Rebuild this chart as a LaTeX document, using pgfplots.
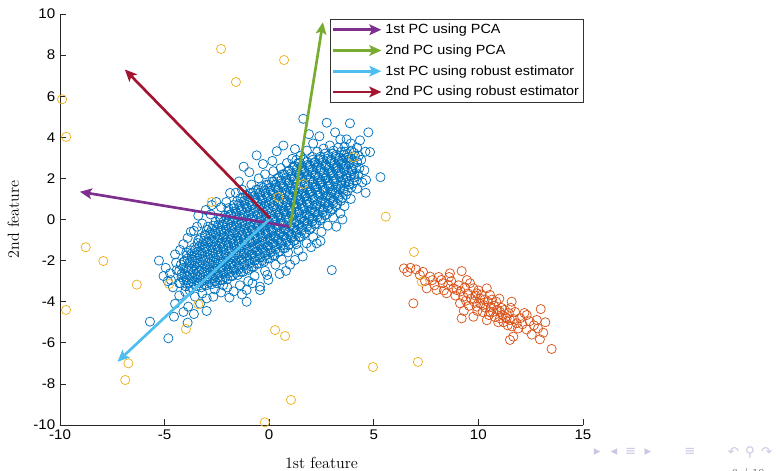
\documentclass[border=0pt]{standalone}
\usepackage{fontspec}
\usepackage{pgfplots}
\pgfplotsset{compat=1.18}
\usetikzlibrary{arrows.meta}
\newfontfamily\arial[FakeStretch=1.08]{Liberation Sans}
\newfontfamily\dejavu{DejaVu Sans}

\definecolor{mblue}{HTML}{0072BD}
\definecolor{morange}{HTML}{D95319}
\definecolor{myellow}{HTML}{EDB120}
\definecolor{mpurple}{HTML}{7E2F8E}
\definecolor{mgreen}{HTML}{77AC30}
\definecolor{mcyan}{HTML}{4DBEEE}
\definecolor{mred}{HTML}{A2142F}
\definecolor{navclr}{RGB}{200,200,228}

\begin{document}
\begin{tikzpicture}
\path[use as bounding box] (-45pt,-34.5pt) rectangle (537pt,318.75pt);
\begin{axis}[
  at={(0pt,0pt)}, anchor=south west,
  scale only axis, width=392.25pt, height=308.25pt,
  xmin=-10, xmax=15, ymin=-10, ymax=10,
  axis x line=bottom, axis y line=left,
  axis line style={-, draw=black!85, line width=0.5pt},
  xtick={-10,-5,...,15}, ytick={-10,-8,...,10},
  tick align=inside, major tick length=4.5pt,
  tick style={black!85, line width=0.5pt},
  ticklabel style={font=\arial\fontsize{10.5}{12}\selectfont},
  /pgf/number format/assume math mode=true,
  xlabel={1st feature}, ylabel={2nd feature},
  label style={font=\fontsize{12}{14}\selectfont},
  xlabel style={yshift=-6pt},
  ylabel style={yshift=4pt},
  clip=false, clip marker paths=true,
  legend cell align=left,
  legend style={at={(1.002,0.988)}, anchor=north east, draw=black!80,
    line width=0.5pt, font=\arial\fontsize{10}{12}\selectfont,
    inner sep=1.5pt, row sep=2.8pt},
  legend image code/.code={\draw[#1] (0pt,0pt) -- (36pt,0pt);},
  scat/.style={only marks, mark=o, mark size=3.45pt, mark options={line width=0.55pt}, forget plot},
  arr/.style={line width=2pt, -{Stealth[length=9pt,width=8pt,inset=2pt]}},
]
% inlier cloud
\addplot[scat, color=mblue] coordinates {
(-4.25,-3.1) (-4.19,-2.8) (-4.3,-2.5) (-4.22,-2.2)
(-4.0,-3.25) (-3.94,-2.95) (-4.05,-2.65) (-3.97,-2.35) (-4.07,-2.05) (-3.95,-1.75)
(-3.75,-3.3) (-3.69,-3.0) (-3.8,-2.7) (-3.72,-2.4) (-3.82,-2.1) (-3.7,-1.8) (-3.77,-1.5)
(-3.5,-3.25) (-3.44,-2.95) (-3.55,-2.65) (-3.47,-2.35) (-3.57,-2.05) (-3.45,-1.75) (-3.52,-1.45) (-3.42,-1.15)
(-3.25,-3.3) (-3.19,-3.0) (-3.3,-2.7) (-3.22,-2.4) (-3.32,-2.1) (-3.2,-1.8) (-3.27,-1.5) (-3.17,-1.2) (-3.29,-0.9)
(-3.0,-3.2) (-2.94,-2.9) (-3.05,-2.6) (-2.97,-2.3) (-3.07,-2.0) (-2.95,-1.7) (-3.02,-1.4) (-2.92,-1.1) (-3.04,-0.8) (-2.98,-0.5)
(-2.75,-3.15) (-2.69,-2.85) (-2.8,-2.55) (-2.72,-2.25) (-2.82,-1.95) (-2.7,-1.65) (-2.77,-1.35) (-2.67,-1.05) (-2.79,-0.75) (-2.73,-0.45)
(-2.5,-3.1) (-2.44,-2.8) (-2.55,-2.5) (-2.47,-2.2) (-2.57,-1.9) (-2.45,-1.6) (-2.52,-1.3) (-2.42,-1.0) (-2.54,-0.7) (-2.48,-0.4) (-2.56,-0.1)
(-2.25,-2.95) (-2.19,-2.65) (-2.3,-2.35) (-2.22,-2.05) (-2.32,-1.75) (-2.2,-1.45) (-2.27,-1.15) (-2.17,-0.85) (-2.29,-0.55) (-2.23,-0.25) (-2.31,0.05)
(-2.0,-2.9) (-1.94,-2.6) (-2.05,-2.3) (-1.97,-2.0) (-2.07,-1.7) (-1.95,-1.4) (-2.02,-1.1) (-1.92,-0.8) (-2.04,-0.5) (-1.98,-0.2) (-2.06,0.1) (-1.93,0.4)
(-1.75,-2.75) (-1.69,-2.45) (-1.8,-2.15) (-1.72,-1.85) (-1.82,-1.55) (-1.7,-1.25) (-1.77,-0.95) (-1.67,-0.65) (-1.79,-0.35) (-1.73,-0.05) (-1.81,0.25) (-1.68,0.55)
(-1.5,-2.7) (-1.44,-2.4) (-1.55,-2.1) (-1.47,-1.8) (-1.57,-1.5) (-1.45,-1.2) (-1.52,-0.9) (-1.42,-0.6) (-1.54,-0.3) (-1.48,0.0) (-1.56,0.3) (-1.43,0.6) (-1.53,0.9)
(-1.25,-2.55) (-1.19,-2.25) (-1.3,-1.95) (-1.22,-1.65) (-1.32,-1.35) (-1.2,-1.05) (-1.27,-0.75) (-1.17,-0.45) (-1.29,-0.15) (-1.23,0.15) (-1.31,0.45) (-1.18,0.75) (-1.28,1.05)
(-1.0,-2.45) (-0.94,-2.15) (-1.05,-1.85) (-0.97,-1.55) (-1.07,-1.25) (-0.95,-0.95) (-1.02,-0.65) (-0.92,-0.35) (-1.04,-0.05) (-0.98,0.25) (-1.06,0.55) (-0.93,0.85) (-1.03,1.15)
(-0.75,-2.3) (-0.69,-2.0) (-0.8,-1.7) (-0.72,-1.4) (-0.82,-1.1) (-0.7,-0.8) (-0.77,-0.5) (-0.67,-0.2) (-0.79,0.1) (-0.73,0.4) (-0.81,0.7) (-0.68,1.0) (-0.78,1.3)
(-0.5,-2.15) (-0.44,-1.85) (-0.55,-1.55) (-0.47,-1.25) (-0.57,-0.95) (-0.45,-0.65) (-0.52,-0.35) (-0.42,-0.05) (-0.54,0.25) (-0.48,0.55) (-0.56,0.85) (-0.43,1.15) (-0.53,1.45)
(-0.25,-2.05) (-0.19,-1.75) (-0.3,-1.45) (-0.22,-1.15) (-0.32,-0.85) (-0.2,-0.55) (-0.27,-0.25) (-0.17,0.05) (-0.29,0.35) (-0.23,0.65) (-0.31,0.95) (-0.18,1.25) (-0.28,1.55)
(0.0,-1.9) (0.06,-1.6) (-0.05,-1.3) (0.03,-1.0) (-0.07,-0.7) (0.05,-0.4) (-0.02,-0.1) (0.08,0.2) (-0.04,0.5) (0.02,0.8) (-0.06,1.1) (0.07,1.4) (-0.03,1.7)
(0.25,-1.75) (0.31,-1.45) (0.2,-1.15) (0.28,-0.85) (0.18,-0.55) (0.3,-0.25) (0.23,0.05) (0.33,0.35) (0.21,0.65) (0.27,0.95) (0.19,1.25) (0.32,1.55) (0.22,1.85)
(0.5,-1.55) (0.56,-1.25) (0.45,-0.95) (0.53,-0.65) (0.43,-0.35) (0.55,-0.05) (0.48,0.25) (0.58,0.55) (0.46,0.85) (0.52,1.15) (0.44,1.45) (0.57,1.75) (0.47,2.05)
(0.75,-1.4) (0.81,-1.1) (0.7,-0.8) (0.78,-0.5) (0.68,-0.2) (0.8,0.1) (0.73,0.4) (0.83,0.7) (0.71,1.0) (0.77,1.3) (0.69,1.6) (0.82,1.9) (0.72,2.2)
(1.0,-1.2) (1.06,-0.9) (0.95,-0.6) (1.03,-0.3) (0.93,0.0) (1.05,0.3) (0.98,0.6) (1.08,0.9) (0.96,1.2) (1.02,1.5) (0.94,1.8) (1.07,2.1) (0.97,2.4)
(1.25,-1.0) (1.31,-0.7) (1.2,-0.4) (1.28,-0.1) (1.18,0.2) (1.3,0.5) (1.23,0.8) (1.33,1.1) (1.21,1.4) (1.27,1.7) (1.19,2.0) (1.32,2.3) (1.22,2.6)
(1.5,-0.85) (1.56,-0.55) (1.45,-0.25) (1.53,0.05) (1.43,0.35) (1.55,0.65) (1.48,0.95) (1.58,1.25) (1.46,1.55) (1.52,1.85) (1.44,2.15) (1.57,2.45) (1.47,2.75)
(1.75,-0.65) (1.81,-0.35) (1.7,-0.05) (1.78,0.25) (1.68,0.55) (1.8,0.85) (1.73,1.15) (1.83,1.45) (1.71,1.75) (1.77,2.05) (1.69,2.35) (1.82,2.65)
(2.0,-0.4) (2.06,-0.1) (1.95,0.2) (2.03,0.5) (1.93,0.8) (2.05,1.1) (1.98,1.4) (2.08,1.7) (1.96,2.0) (2.02,2.3) (1.94,2.6) (2.07,2.9)
(2.25,-0.2) (2.31,0.1) (2.2,0.4) (2.28,0.7) (2.18,1.0) (2.3,1.3) (2.23,1.6) (2.33,1.9) (2.21,2.2) (2.27,2.5) (2.19,2.8)
(2.5,0.05) (2.56,0.35) (2.45,0.65) (2.53,0.95) (2.43,1.25) (2.55,1.55) (2.48,1.85) (2.58,2.15) (2.46,2.45) (2.52,2.75) (2.44,3.05)
(2.75,0.25) (2.81,0.55) (2.7,0.85) (2.78,1.15) (2.68,1.45) (2.8,1.75) (2.73,2.05) (2.83,2.35) (2.71,2.65) (2.77,2.95)
(3.0,0.5) (3.06,0.8) (2.95,1.1) (3.03,1.4) (2.93,1.7) (3.05,2.0) (2.98,2.3) (3.08,2.6) (2.96,2.9) (3.02,3.2)
(3.25,0.75) (3.31,1.05) (3.2,1.35) (3.28,1.65) (3.18,1.95) (3.3,2.25) (3.23,2.55) (3.33,2.85) (3.21,3.15)
(3.5,1.05) (3.56,1.35) (3.45,1.65) (3.53,1.95) (3.43,2.25) (3.55,2.55) (3.48,2.85) (3.58,3.15)
(3.75,1.4) (3.81,1.7) (3.7,2.0) (3.78,2.3) (3.68,2.6) (3.8,2.9) (3.73,3.2)
(4.0,1.75) (4.06,2.05) (3.95,2.35) (4.03,2.65) (3.93,2.95) (4.05,3.25)
(4.25,2.2) (4.31,2.5) (4.2,2.8) (4.28,3.1)
(-4.09,-2.95) (-4.19,-2.65) (-4.11,-2.35) (-4.06,-2.05)
(-3.84,-3.1) (-3.94,-2.8) (-3.86,-2.5) (-3.81,-2.2) (-3.91,-1.9) (-3.96,-1.6)
(-3.59,-3.15) (-3.69,-2.85) (-3.61,-2.55) (-3.56,-2.25) (-3.66,-1.95) (-3.71,-1.65) (-3.58,-1.35)
(-3.34,-3.1) (-3.44,-2.8) (-3.36,-2.5) (-3.31,-2.2) (-3.41,-1.9) (-3.46,-1.6) (-3.33,-1.3) (-3.39,-1.0)
(-3.09,-3.15) (-3.19,-2.85) (-3.11,-2.55) (-3.06,-2.25) (-3.16,-1.95) (-3.21,-1.65) (-3.08,-1.35) (-3.14,-1.05) (-3.07,-0.75)
(-2.84,-3.05) (-2.94,-2.75) (-2.86,-2.45) (-2.81,-2.15) (-2.91,-1.85) (-2.96,-1.55) (-2.83,-1.25) (-2.89,-0.95) (-2.82,-0.65) (-2.93,-0.35)
(-2.59,-3.0) (-2.69,-2.7) (-2.61,-2.4) (-2.56,-2.1) (-2.66,-1.8) (-2.71,-1.5) (-2.58,-1.2) (-2.64,-0.9) (-2.57,-0.6) (-2.68,-0.3)
(-2.34,-2.95) (-2.44,-2.65) (-2.36,-2.35) (-2.31,-2.05) (-2.41,-1.75) (-2.46,-1.45) (-2.33,-1.15) (-2.39,-0.85) (-2.32,-0.55) (-2.43,-0.25) (-2.35,0.05)
(-2.09,-2.8) (-2.19,-2.5) (-2.11,-2.2) (-2.06,-1.9) (-2.16,-1.6) (-2.21,-1.3) (-2.08,-1.0) (-2.14,-0.7) (-2.07,-0.4) (-2.18,-0.1) (-2.1,0.2)
(-1.84,-2.75) (-1.94,-2.45) (-1.86,-2.15) (-1.81,-1.85) (-1.91,-1.55) (-1.96,-1.25) (-1.83,-0.95) (-1.89,-0.65) (-1.82,-0.35) (-1.93,-0.05) (-1.85,0.25) (-1.95,0.55)
(-1.59,-2.6) (-1.69,-2.3) (-1.61,-2.0) (-1.56,-1.7) (-1.66,-1.4) (-1.71,-1.1) (-1.58,-0.8) (-1.64,-0.5) (-1.57,-0.2) (-1.68,0.1) (-1.6,0.4) (-1.7,0.7)
(-1.34,-2.55) (-1.44,-2.25) (-1.36,-1.95) (-1.31,-1.65) (-1.41,-1.35) (-1.46,-1.05) (-1.33,-0.75) (-1.39,-0.45) (-1.32,-0.15) (-1.43,0.15) (-1.35,0.45) (-1.45,0.75) (-1.37,1.05)
(-1.09,-2.4) (-1.19,-2.1) (-1.11,-1.8) (-1.06,-1.5) (-1.16,-1.2) (-1.21,-0.9) (-1.08,-0.6) (-1.14,-0.3) (-1.07,0.0) (-1.18,0.3) (-1.1,0.6) (-1.2,0.9) (-1.12,1.2)
(-0.84,-2.3) (-0.94,-2.0) (-0.86,-1.7) (-0.81,-1.4) (-0.91,-1.1) (-0.96,-0.8) (-0.83,-0.5) (-0.89,-0.2) (-0.82,0.1) (-0.93,0.4) (-0.85,0.7) (-0.95,1.0) (-0.87,1.3)
(-0.59,-2.15) (-0.69,-1.85) (-0.61,-1.55) (-0.56,-1.25) (-0.66,-0.95) (-0.71,-0.65) (-0.58,-0.35) (-0.64,-0.05) (-0.57,0.25) (-0.68,0.55) (-0.6,0.85) (-0.7,1.15) (-0.62,1.45)
(-0.34,-2.0) (-0.44,-1.7) (-0.36,-1.4) (-0.31,-1.1) (-0.41,-0.8) (-0.46,-0.5) (-0.33,-0.2) (-0.39,0.1) (-0.32,0.4) (-0.43,0.7) (-0.35,1.0) (-0.45,1.3) (-0.37,1.6)
(-0.09,-1.9) (-0.19,-1.6) (-0.11,-1.3) (-0.06,-1.0) (-0.16,-0.7) (-0.21,-0.4) (-0.08,-0.1) (-0.14,0.2) (-0.07,0.5) (-0.18,0.8) (-0.1,1.1) (-0.2,1.4) (-0.12,1.7)
(0.17,-1.75) (0.07,-1.45) (0.15,-1.15) (0.2,-0.85) (0.1,-0.55) (0.05,-0.25) (0.18,0.05) (0.12,0.35) (0.19,0.65) (0.08,0.95) (0.16,1.25) (0.06,1.55) (0.14,1.85)
(0.42,-1.6) (0.32,-1.3) (0.4,-1.0) (0.45,-0.7) (0.35,-0.4) (0.3,-0.1) (0.43,0.2) (0.37,0.5) (0.44,0.8) (0.33,1.1) (0.41,1.4) (0.31,1.7) (0.39,2.0)
(0.67,-1.4) (0.57,-1.1) (0.65,-0.8) (0.7,-0.5) (0.6,-0.2) (0.55,0.1) (0.68,0.4) (0.62,0.7) (0.69,1.0) (0.58,1.3) (0.66,1.6) (0.56,1.9) (0.64,2.2)
(0.92,-1.25) (0.82,-0.95) (0.9,-0.65) (0.95,-0.35) (0.85,-0.05) (0.8,0.25) (0.93,0.55) (0.87,0.85) (0.94,1.15) (0.83,1.45) (0.91,1.75) (0.81,2.05) (0.89,2.35)
(1.17,-1.05) (1.07,-0.75) (1.15,-0.45) (1.2,-0.15) (1.1,0.15) (1.05,0.45) (1.18,0.75) (1.12,1.05) (1.19,1.35) (1.08,1.65) (1.16,1.95) (1.06,2.25) (1.14,2.55)
(1.42,-0.85) (1.32,-0.55) (1.4,-0.25) (1.45,0.05) (1.35,0.35) (1.3,0.65) (1.43,0.95) (1.37,1.25) (1.44,1.55) (1.33,1.85) (1.41,2.15) (1.31,2.45) (1.39,2.75)
(1.67,-0.7) (1.57,-0.4) (1.65,-0.1) (1.7,0.2) (1.6,0.5) (1.55,0.8) (1.68,1.1) (1.62,1.4) (1.69,1.7) (1.58,2.0) (1.66,2.3) (1.56,2.6) (1.64,2.9)
(1.92,-0.5) (1.82,-0.2) (1.9,0.1) (1.95,0.4) (1.85,0.7) (1.8,1.0) (1.93,1.3) (1.87,1.6) (1.94,1.9) (1.83,2.2) (1.91,2.5) (1.81,2.8)
(2.17,-0.25) (2.07,0.05) (2.15,0.35) (2.2,0.65) (2.1,0.95) (2.05,1.25) (2.18,1.55) (2.12,1.85) (2.19,2.15) (2.08,2.45) (2.16,2.75) (2.06,3.05)
(2.42,-0.05) (2.32,0.25) (2.4,0.55) (2.45,0.85) (2.35,1.15) (2.3,1.45) (2.43,1.75) (2.37,2.05) (2.44,2.35) (2.33,2.65) (2.41,2.95)
(2.67,0.2) (2.57,0.5) (2.65,0.8) (2.7,1.1) (2.6,1.4) (2.55,1.7) (2.68,2.0) (2.62,2.3) (2.69,2.6) (2.58,2.9) (2.66,3.2)
(2.92,0.4) (2.82,0.7) (2.9,1.0) (2.95,1.3) (2.85,1.6) (2.8,1.9) (2.93,2.2) (2.87,2.5) (2.94,2.8) (2.83,3.1)
(3.17,0.65) (3.07,0.95) (3.15,1.25) (3.2,1.55) (3.1,1.85) (3.05,2.15) (3.18,2.45) (3.12,2.75) (3.19,3.05) (3.08,3.35)
(3.42,0.9) (3.32,1.2) (3.4,1.5) (3.45,1.8) (3.35,2.1) (3.3,2.4) (3.43,2.7) (3.37,3.0) (3.44,3.3)
(3.67,1.2) (3.57,1.5) (3.65,1.8) (3.7,2.1) (3.6,2.4) (3.55,2.7) (3.68,3.0) (3.62,3.3)
(3.92,1.55) (3.82,1.85) (3.9,2.15) (3.95,2.45) (3.85,2.75) (3.8,3.05) (3.93,3.35)
(4.17,1.9) (4.07,2.2) (4.15,2.5) (4.2,2.8) (4.1,3.1)
(-5.27,-2.0) (-5.7,-4.97) (-4.82,-5.78) (-4.55,-4.73) (-3.9,-5.02) (-3.87,-4.24)
(-2.99,-4.45) (-1.08,-4.0) (-0.44,-3.43) (-0.04,-2.94) (1.0,-2.2) (2.27,-1.16)
(2.99,-2.46) (3.21,-0.35) (4.61,1.3) (5.32,2.06) (4.63,1.92) (4.82,3.28) (4.74,4.24)
(3.86,4.68) (4.34,3.85) (2.75,4.71) (1.63,4.9) (3.15,4.24) (-1.22,2.57) (-0.6,3.12)
(0.36,3.32) (0.68,3.6) (1.23,3.43) (-4.26,-1.48) (-3.39,0.19) (-3.03,0.46) (-2.53,0.85)
(-1.87,1.29) (-4.74,-2.62) (-4.42,-2.46) (-4.02,-3.51) (-2.99,-3.84) (-2.67,-3.76)
(-1.08,-3.43) (-0.44,-3.27) (1.23,-1.97) (1.79,-1.16)
(-4.6,-3.3) (-4.3,-3.7) (-4.5,-4.1) (-4.1,-4.5) (-3.6,-4.6) (-3.3,-4.1) (-3.55,-3.75)
(-3.8,-3.45) (-4.85,-3.0) (-5.05,-2.75) (-4.95,-2.35) (-3.2,-3.6) (-2.6,-3.4) (-2.3,-3.55)
(-2.0,-3.3) (-1.7,-3.5) (-1.4,-3.2) (-1.9,-3.8) (-1.3,-3.65) (-0.8,-3.1) (-0.7,-2.75)
(-0.2,-2.5) (0.3,-2.2) (0.6,-1.95) (0.8,-2.5) (0.5,-2.65) (1.4,-1.5) (1.6,-1.8)
(2.1,-0.85) (2.5,-0.6) (2.8,-0.3) (2.45,-1.05) (3.05,0.1) (3.4,0.3) (3.6,0.65)
(3.9,1.0) (4.2,1.5) (4.45,1.8) (4.55,2.4) (4.4,2.9) (4.6,3.3) (4.2,3.5) (3.9,3.7)
(3.6,3.55) (3.4,3.9) (2.9,3.6) (2.6,3.45) (2.3,3.3) (2.1,3.7) (1.8,3.35) (1.5,3.1)
(1.1,2.95) (0.85,2.75) (2.4,4.05) (1.9,4.15) (0.55,2.5) (0.2,2.35) (-0.2,2.2)
(-0.5,2.0) (-0.85,1.7) (-0.95,2.3) (-1.3,1.45) (-1.6,1.3) (-1.45,1.85) (-2.05,0.85)
(-2.3,0.6) (-2.8,0.25) (-2.75,0.7) (-3.2,-0.2) (-3.6,-0.55) (-3.9,-0.9) (-4.1,-1.2)
(-4.5,-1.7) (-4.45,-2.1) (-4.7,-2.95) (-4.3,-3.1) (0.15,2.85) (-0.3,2.7) (1.3,2.9)
(3.3,3.5) (3.7,3.9) (-3.75,-0.6) (-3.45,-0.35) (-2.2,-3.2) (-1.0,-3.0) (-0.1,-2.7)
(0.9,-1.6) (1.3,-1.2) (2.0,-1.35) (3.5,0.0)
};
% second cluster
\addplot[scat, color=morange] coordinates {
(6.44,-2.38) (7.02,-2.43) (7.69,-2.78) (8.64,-2.62) (9.2,-2.51) (7.53,-3.35) (8.0,-3.43)
(8.24,-2.94) (8.56,-3.19) (8.48,-3.59) (8.96,-3.43) (9.12,-4.08) (9.28,-3.76) (9.76,-3.35)
(9.92,-3.59) (10.08,-3.84) (10.4,-3.35) (10.55,-3.67) (9.92,-4.24) (9.76,-4.73) (10.24,-4.16)
(10.55,-4.49) (11.03,-4.49) (11.35,-4.81) (11.59,-4.0) (11.51,-4.89) (11.83,-5.05) (12.31,-4.65)
(12.79,-4.89) (12.98,-4.36) (11.67,-5.7) (11.51,-5.86) (13.1,-5.51) (12.94,-5.83) (13.5,-6.3)
(6.89,-4.08) (9.2,-4.81) (11.03,-4.81)
(6.6,-2.55) (6.75,-2.35) (7.2,-2.7) (7.35,-2.55) (7.45,-3.0) (7.8,-2.95) (7.9,-3.2)
(8.1,-2.8) (8.3,-3.1) (8.35,-3.45) (8.7,-3.0) (8.8,-3.35) (8.9,-3.7) (9.05,-3.2)
(9.15,-3.5) (9.35,-3.3) (9.4,-3.95) (9.5,-3.6) (9.55,-4.2) (9.6,-3.1) (9.65,-3.85)
(9.8,-4.0) (9.85,-3.7) (9.95,-4.45) (10.0,-3.45) (10.1,-4.1) (10.15,-3.65) (10.2,-4.5)
(10.3,-3.9) (10.35,-4.3) (10.45,-4.0) (10.5,-4.65) (10.6,-4.25) (10.65,-3.9) (10.7,-4.5)
(10.75,-4.2) (10.8,-4.75) (10.85,-4.0) (10.9,-4.4) (10.95,-5.0) (11.1,-4.3) (11.15,-4.65)
(11.2,-5.0) (11.25,-4.4) (11.3,-4.75) (11.4,-5.15) (11.45,-4.55) (11.55,-4.3) (11.6,-5.2)
(11.7,-4.85) (11.75,-4.5) (11.9,-5.3) (12.0,-4.8) (12.1,-5.1) (12.2,-4.55) (12.3,-5.35)
(12.45,-4.95) (12.55,-5.6) (12.65,-5.15) (12.85,-5.3) (13.2,-5.0) (9.3,-4.45) (10.4,-4.9)
(11.0,-3.85) (8.6,-2.8) (9.45,-2.95)
};
% scattered outliers
\addplot[scat, color=myellow] coordinates {
(-9.9,5.85) (-9.7,4.02) (-2.3,8.3) (0.71,7.76) (-1.59,6.69) (-2.75,0.85) (0.44,1.08)
(1.63,1.73) (4.02,3.03) (5.57,0.14) (-8.77,-1.35) (-7.93,-2.02) (-6.33,-3.17) (-4.78,-3.14)
(-9.71,-4.4) (-3.39,-4.13) (-3.98,-5.33) (0.28,-5.38) (0.76,-5.67) (-6.73,-7.0) (-6.88,-7.81)
(1.04,-8.78) (-0.21,-9.87) (4.96,-7.18) (7.11,-6.93) (6.92,-1.58) (7.29,-3.03)
};
% principal directions
\addplot[arr, color=mpurple] coordinates {(1.0,-0.35) (-9.05,1.35)};
\addlegendentry{1st PC using PCA}
\addplot[arr, color=mgreen] coordinates {(1.0,-0.35) (2.57,9.6)};
\addlegendentry{2nd PC using PCA}
\addplot[arr, color=mcyan] coordinates {(0.05,0.05) (-7.25,-6.92)};
\addlegendentry{1st PC using robust estimator}
\addplot[arr, color=mred] coordinates {(0.05,0.05) (-6.9,7.3)};
\addlegendentry{2nd PC using robust estimator}
\end{axis}
% beamer navigation symbols
\begin{scope}[navclr, font=\dejavu\fontsize{10}{11}\selectfont]
\node at (403pt,-20.25pt) {▸};
\node at (415.5pt,-20.25pt) {◂};
\node at (428pt,-20.25pt) {≡};
\node at (441pt,-20.25pt) {▸};
\node at (472.5pt,-20.25pt) {≡};
\node at (505pt,-20.25pt) {↶};
\node at (517.5pt,-20.25pt) {⚲};
\node at (530pt,-20.25pt) {↷};
\end{scope}
\node[black!70, font=\fontsize{9}{10}\selectfont, anchor=north] at (516pt,-29pt) {6 / 10};
\end{tikzpicture}
\end{document}
